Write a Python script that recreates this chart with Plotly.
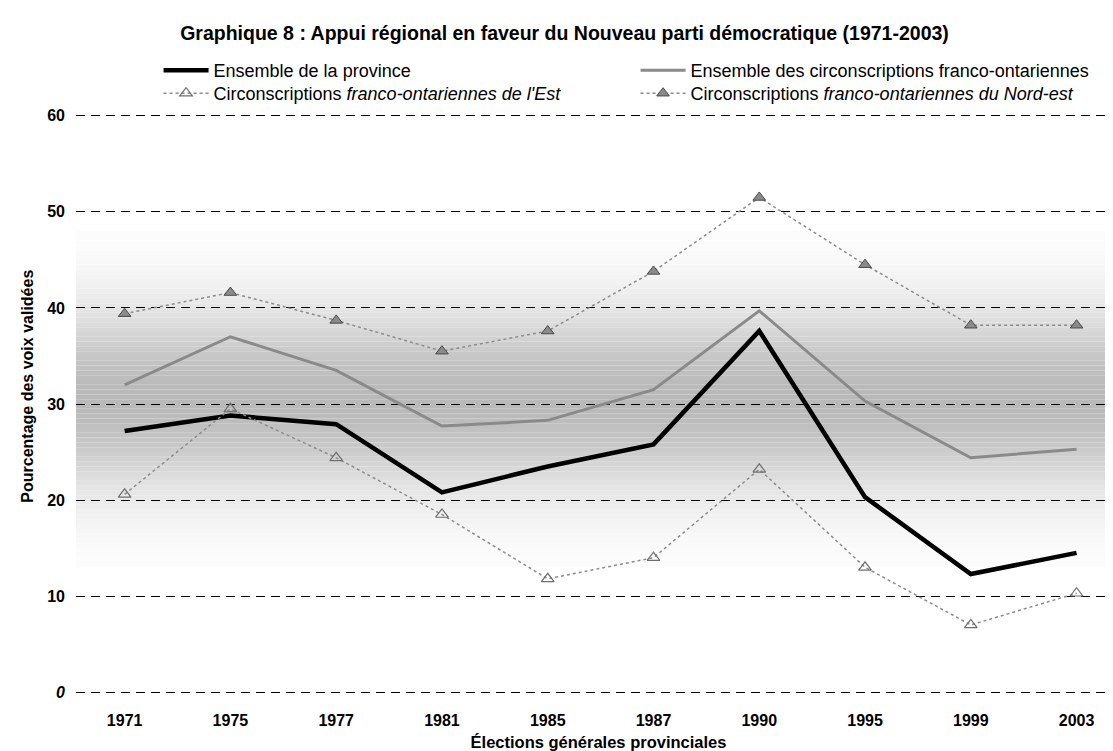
import numpy as np
import plotly.graph_objects as go

years = ['1971', '1975', '1977', '1981', '1985', '1987', '1990', '1995', '1999', '2003']
province = [27.2, 28.8, 27.9, 20.8, 23.5, 25.8, 37.6, 20.3, 12.3, 14.5]
franco = [32.0, 37.0, 33.5, 27.7, 28.3, 31.5, 39.7, 30.3, 24.4, 25.3]
est = [20.6, 29.5, 24.4, 18.5, 11.8, 14.0, 23.2, 13.0, 7.0, 10.3]
nordest = [39.4, 41.6, 38.7, 35.5, 37.6, 43.8, 51.5, 44.5, 38.2, 38.2]

names = ['Ensemble de la province',
         'Ensemble des circonscriptions franco-ontariennes',
         "Circonscriptions <i>franco-ontariennes de l'Est</i>",
         'Circonscriptions <i>franco-ontariennes du Nord-est</i>']

y_ticks = [0, 10, 20, 30, 40, 50, 60]
y_ticktext = ['<i>0</i>', '10', '20', '30', '40', '50', '60']

title = 'Graphique 8 : Appui régional en faveur du Nouveau parti démocratique (1971-2003)'
x_title = 'Élections générales provinciales'
y_title = 'Pourcentage des voix validées'

FONT = 'Liberation Sans, Arial, sans-serif'

fig = go.Figure()
fig.add_trace(go.Scatter(x=years, y=province, name=names[0], mode='lines',
                         line=dict(color='#000000', width=4.5), legend='legend'))
fig.add_trace(go.Scatter(x=years, y=franco, name=names[1], mode='lines',
                         line=dict(color='#8a8a8a', width=3), legend='legend'))
fig.add_trace(go.Scatter(x=years, y=est, name=names[2], mode='lines+markers',
                         line=dict(color='#8c8c8c', width=1.5, dash='dot'),
                         marker=dict(symbol='triangle-up-open', size=11, color='#6e6e6e',
                                     line=dict(width=1.2, color='#6e6e6e')),
                         legend='legend2'))
fig.add_trace(go.Scatter(x=years, y=nordest, name=names[3], mode='lines+markers',
                         line=dict(color='#8c8c8c', width=1.5, dash='dot'),
                         marker=dict(symbol='triangle-up', size=11, color='#8a8a8a',
                                     line=dict(width=1, color='#4a4a4a')),
                         legend='legend2'))

# soft grey background band (scanned texture)
shapes = []
for v in np.arange(4, 54, 0.5):
    c = v + 0.25
    d = np.exp(-((c - 30.5) / 9.5) ** 2)
    g = int(round(255 - 70 * d))
    if g >= 253:
        continue
    shapes.append(dict(type='rect', xref='paper', yref='y', x0=0, x1=1, y0=v, y1=v + 0.5,
                       fillcolor=f'rgb({g},{g},{g})', line=dict(width=0), layer='below'))

annotations = [
    dict(text='<b>' + y_title + '</b>', xref='paper', yref='y', x=-0.046, y=31.9,
         textangle=-90, showarrow=False, xanchor='center', yanchor='middle',
         font=dict(size=16, family=FONT)),
]

legend_common = dict(orientation='h', x=0.079, yref='container', yanchor='top',
                     xanchor='left', entrywidth=417, entrywidthmode='pixels',
                     font=dict(size=18, family=FONT), itemwidth=45,
                     bgcolor='rgba(0,0,0,0)')

fig.update_layout(
    width=1113, height=751,
    margin=dict(l=68, r=0, t=103, b=62, autoexpand=False),
    paper_bgcolor='white', plot_bgcolor='white',
    font=dict(family=FONT, color='#000000'),
    title=dict(text='<b>' + title + '</b>', x=0.5, xref='container', xanchor='center',
               y=1 - 25 / 751, yref='container', yanchor='middle',
               font=dict(size=19.5, family=FONT)),
    shapes=shapes,
    annotations=annotations,
    showlegend=True,
    legend=dict(y=1 - 44 / 751, **legend_common),
    legend2=dict(y=1 - 67 / 751, **legend_common),
    xaxis=dict(type='category', range=[-0.46, 9.42], showgrid=False, zeroline=False,
               showline=False, ticks='', tickfont=dict(size=16, family=FONT, weight='bold'),
               ticklabelstandoff=12,
               title=dict(text='<b>' + x_title + '</b>', font=dict(size=16.5, family=FONT),
                          standoff=8)),
    yaxis=dict(range=[-0.5, 60.5], tickvals=y_ticks, ticktext=y_ticktext,
               showgrid=True, gridcolor='#000000', gridwidth=1.2, griddash='9px,6px',
               zeroline=False, showline=False, ticks='',
               tickfont=dict(size=16, family=FONT, weight='bold'),
               ticklabelstandoff=10),
)

fig.write_html('out.html')
